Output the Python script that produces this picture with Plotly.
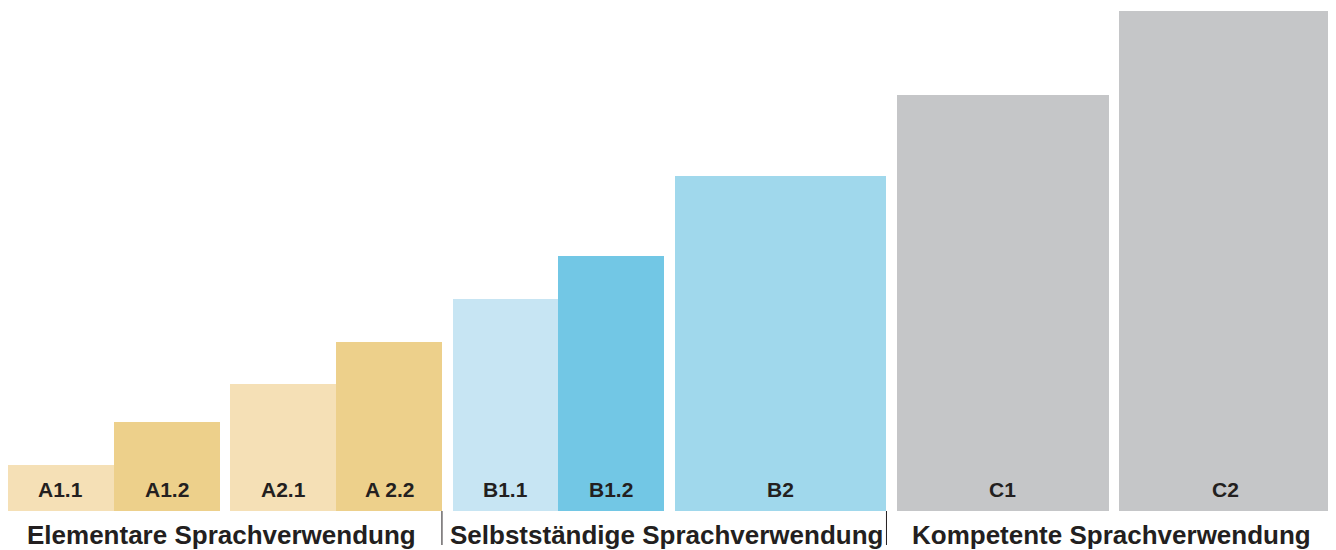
import plotly.graph_objects as go

# ---- data ----
levels = ["A1.1", "A1.2", "A2.1", "A 2.2", "B1.1", "B1.2", "B2", "C1", "C2"]
values = [46, 89, 127, 169, 212, 255, 335, 416, 500]
level_widths = [1, 1, 1, 1, 1, 1, 2, 2, 2]
gap_after = [False, True, False, True, False, True, True, True, False]
groups = ["Elementare Sprachverwendung", "Selbstständige Sprachverwendung", "Kompetente Sprachverwendung"]
group_members = [[0, 1, 2, 3], [4, 5, 6], [7, 8]]
colors = ["#F5E0B6", "#EDD08B", "#F5E0B6", "#EDD08B", "#C7E5F3", "#72C7E5", "#A0D8EC", "#C5C6C8", "#C5C6C8"]

GAP = 0.1
TEXT = "#231F20"

# compute bar positions from widths
centers, lefts, rights = [], [], []
pos = 0.0
for w, g in zip(level_widths, gap_after):
    lefts.append(pos)
    centers.append(pos + w / 2)
    pos += w
    rights.append(pos)
    if g:
        pos += GAP
total = pos

fig = go.Figure()
fig.add_trace(go.Bar(
    x=centers, y=values, width=level_widths,
    marker=dict(color=colors, line=dict(width=0)),
    hoverinfo="skip", showlegend=False,
))

annotations = []
for c, lab in zip(centers, levels):
    annotations.append(dict(
        x=c, y=0, xref="x", yref="y", text=lab, showarrow=False,
        yanchor="middle", yshift=22,
        font=dict(family="Liberation Sans, Arial, sans-serif", size=21, color=TEXT, weight="bold"),
    ))

shapes = []
for name, mem in zip(groups, group_members):
    gl, gr = lefts[mem[0]], rights[mem[-1]]
    annotations.append(dict(
        x=(gl + gr) / 2, y=0, xref="x", yref="y", text=name, showarrow=False,
        yanchor="middle", yshift=-24, xshift=-3,
        font=dict(family="Liberation Sans, Arial, sans-serif", size=26, color=TEXT, weight="bold"),
    ))
    shapes.append(dict(
        type="line", xref="x", yref="paper", x0=gr, x1=gr, y0=0, y1=-0.068,
        line=dict(color=TEXT, width=1),
    ))

fig.update_layout(
    width=1328, height=542,
    margin=dict(l=0, r=5, t=3, b=39),
    paper_bgcolor="white", plot_bgcolor="white",
    xaxis=dict(range=[0, total], visible=False, fixedrange=True),
    yaxis=dict(range=[0, 500], visible=False, fixedrange=True),
    annotations=annotations, shapes=shapes,
    bargap=0,
)

fig.write_html("out.html", config={"displayModeBar": False})
